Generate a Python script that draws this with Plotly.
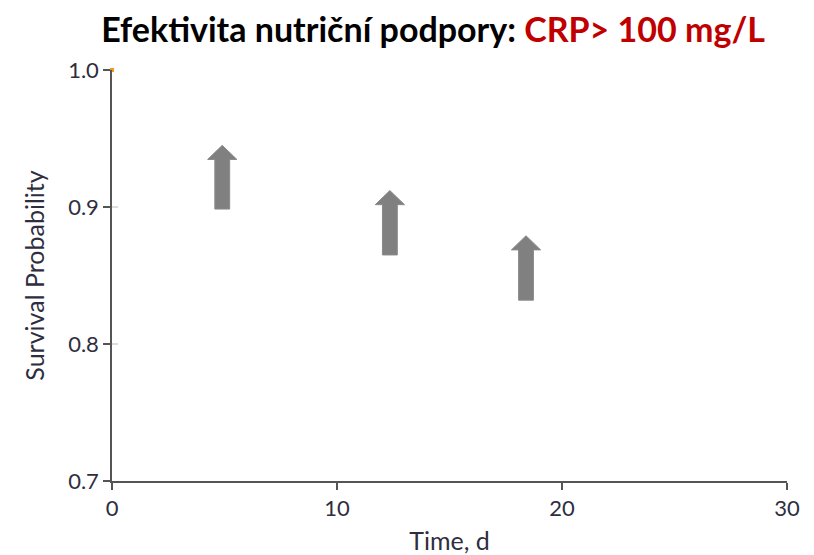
import plotly.graph_objects as go

# Kaplan-Meier axes with three block arrows marking improvement points
x_ticks = [0, 10, 20, 30]
y_ticks = [0.7, 0.8, 0.9, 1.0]
y_tick_labels = ["0.7", "0.8", "0.9", "1.0"]

curve_time = [0]
curve_surv = [1.0]

arrow_time = [4.9, 12.35, 18.4]
arrow_base = [0.8985, 0.865, 0.832]
arrow_tip = [0.945, 0.912, 0.879]

# arrow geometry in data units
shaft_half = 0.33
head_half = 0.65
head_len = 0.0103

fig = go.Figure()

fig.add_trace(go.Scatter(
    x=curve_time, y=curve_surv, mode="markers",
    marker=dict(symbol="square", size=4, color="#F7941D"),
    showlegend=False, hoverinfo="skip", cliponaxis=False,
))

for xt, yb, yt in zip(arrow_time, arrow_base, arrow_tip):
    yh = yt - head_len
    xs = [xt - shaft_half, xt + shaft_half, xt + shaft_half, xt + head_half,
          xt, xt - head_half, xt - shaft_half, xt - shaft_half]
    ys = [yb, yb, yh, yh, yt, yh, yh, yb]
    fig.add_trace(go.Scatter(
        x=xs, y=ys, mode="lines", fill="toself",
        fillcolor="#808080", line=dict(color="#8a8a8a", width=1),
        showlegend=False, hoverinfo="skip",
    ))

# invisible trace carrying the secondary y axis (light inner tick stubs)
fig.add_trace(go.Scatter(
    x=curve_time, y=curve_surv, yaxis="y2", mode="markers",
    marker=dict(opacity=0), showlegend=False, hoverinfo="skip",
))

tick_font = dict(family="Lato, sans-serif", size=22, color="#2e2e40")
label_font = dict(family="Lato, sans-serif", size=25, color="#2e2e40")

fig.update_layout(
    width=814, height=555,
    margin=dict(l=112, r=27, t=70, b=74),
    paper_bgcolor="white", plot_bgcolor="white",
    title=dict(
        text="<b>Efektivita nutriční podpory: <span style='color:#C00000'>CRP> 100 mg/L</span></b>",
        x=0.532, xanchor="center", y=0.945, yanchor="middle",
        font=dict(family="Lato, sans-serif", size=34, color="black"),
    ),
    xaxis=dict(
        range=[0, 30], tickvals=x_ticks, ticktext=[str(v) for v in x_ticks],
        showgrid=False, zeroline=False, showline=True, linecolor="#555555", linewidth=1.5,
        ticks="outside", ticklen=7, tickcolor="#555555", tickwidth=1.5,
        tickfont=tick_font, automargin=False,
        title=dict(text="Time, d", font=label_font, standoff=12),
    ),
    yaxis=dict(
        range=[0.7, 1.0], tickvals=y_ticks, ticktext=y_tick_labels,
        showgrid=False, zeroline=False, showline=True, linecolor="#555555", linewidth=1.5,
        ticks="outside", ticklen=7, tickcolor="#555555", tickwidth=1.5,
        tickfont=tick_font, automargin=False,
        title=dict(text="Survival Probability", font=label_font, standoff=16),
    ),
    yaxis2=dict(
        range=[0.7, 1.0], tickvals=[0.8, 0.9], overlaying="y", side="left",
        showgrid=False, zeroline=False, showline=False, showticklabels=False,
        ticks="inside", ticklen=6, tickcolor="#dddddd", tickwidth=1.5,
        automargin=False,
    ),
)

fig.write_html("out.html")
